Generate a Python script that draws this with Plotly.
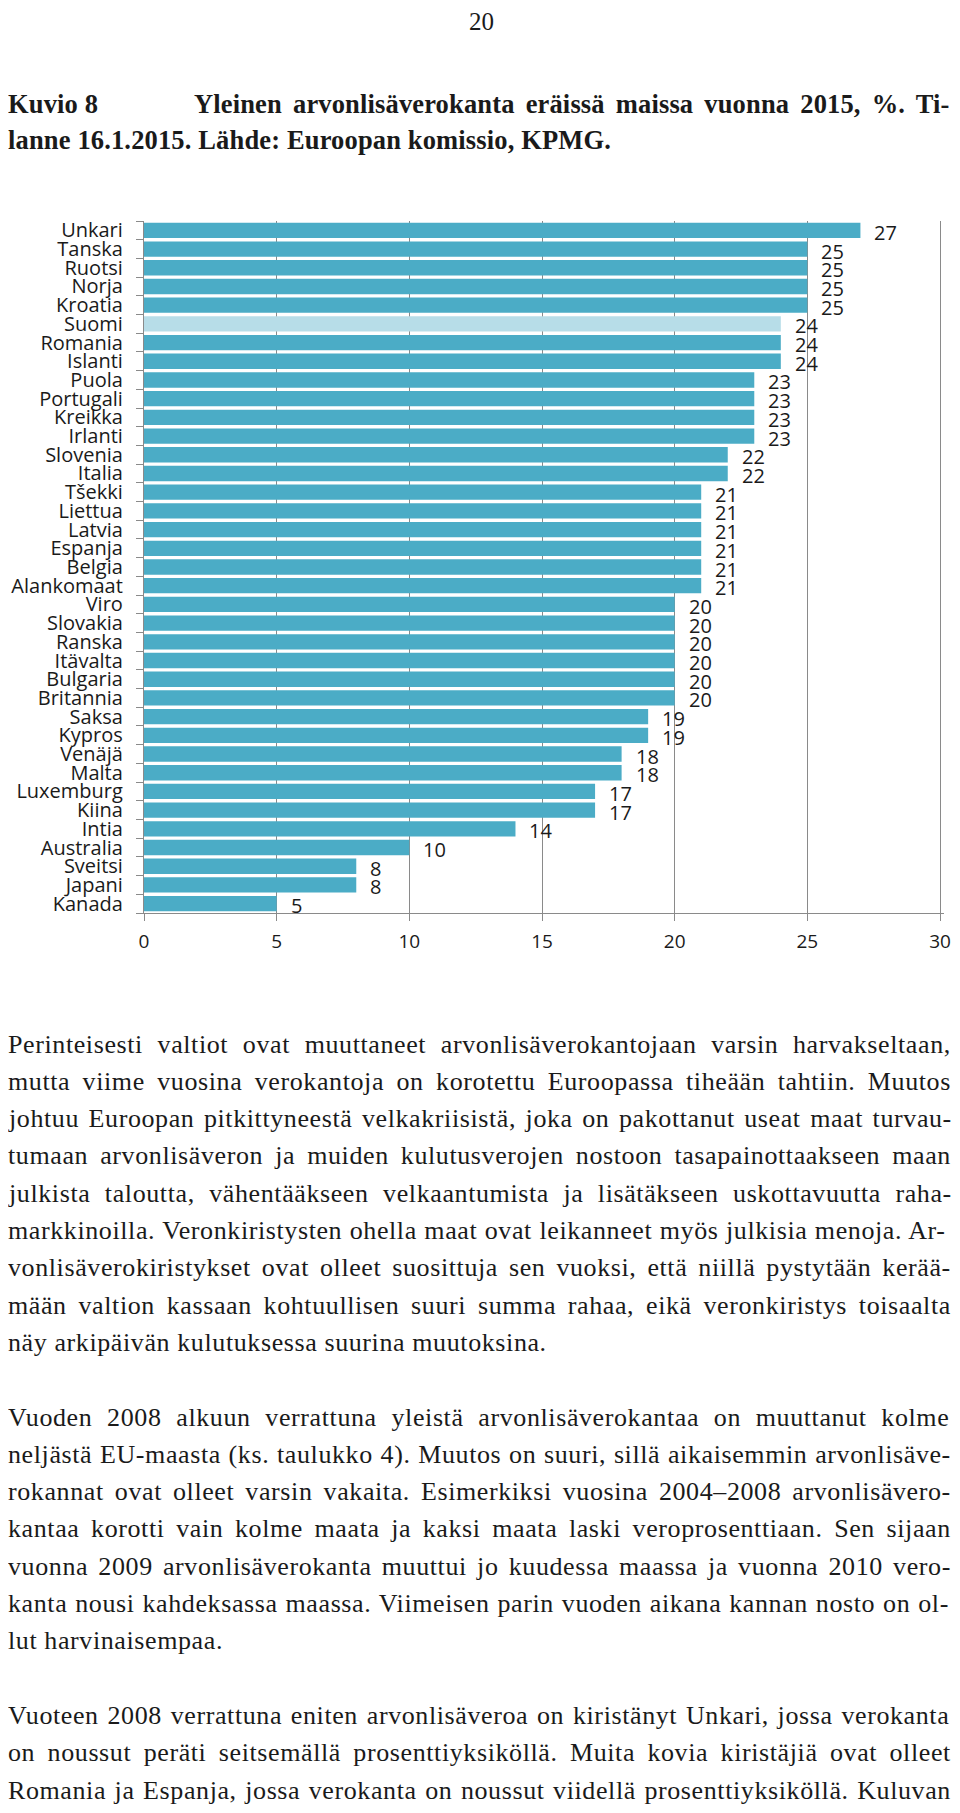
import plotly.graph_objects as go

# ---------------- data ----------------
countries = ["Unkari", "Tanska", "Ruotsi", "Norja", "Kroatia", "Suomi", "Romania",
             "Islanti", "Puola", "Portugali", "Kreikka", "Irlanti", "Slovenia", "Italia",
             "Tšekki", "Liettua", "Latvia", "Espanja", "Belgia", "Alankomaat", "Viro",
             "Slovakia", "Ranska", "Itävalta", "Bulgaria", "Britannia", "Saksa", "Kypros",
             "Venäjä", "Malta", "Luxemburg", "Kiina", "Intia", "Australia", "Sveitsi",
             "Japani", "Kanada"]
vat_rates = [27, 25, 25, 25, 25, 24, 24, 24, 23, 23, 23, 23, 22, 22, 21, 21, 21, 21, 21, 21,
             20, 20, 20, 20, 20, 20, 19, 19, 18, 18, 17, 17, 14, 10, 8, 8, 5]
highlight = "Suomi"
x_ticks = [0, 5, 10, 15, 20, 25, 30]

page_number = "20"
title_label = "Kuvio 8"
title_line1 = "Yleinen arvonlisäverokanta eräissä maissa vuonna 2015, %. Ti-"
title_line2 = "lanne 16.1.2015. Lähde: Euroopan komissio, KPMG."

paragraph1 = [
    "Perinteisesti valtiot ovat muuttaneet arvonlisäverokantojaan varsin harvakseltaan,",
    "mutta viime vuosina verokantoja on korotettu Euroopassa tiheään tahtiin. Muutos",
    "johtuu Euroopan pitkittyneestä velkakriisistä, joka on pakottanut useat maat turvau-",
    "tumaan arvonlisäveron ja muiden kulutusverojen nostoon tasapainottaakseen maan",
    "julkista taloutta, vähentääkseen velkaantumista ja lisätäkseen uskottavuutta raha-",
    "markkinoilla. Veronkiristysten ohella maat ovat leikanneet myös julkisia menoja. Ar-",
    "vonlisäverokiristykset ovat olleet suosittuja sen vuoksi, että niillä pystytään kerää-",
    "mään valtion kassaan kohtuullisen suuri summa rahaa, eikä veronkiristys toisaalta",
    "näy arkipäivän kulutuksessa suurina muutoksina.",
]
paragraph2 = [
    "Vuoden 2008 alkuun verrattuna yleistä arvonlisäverokantaa on muuttanut kolme",
    "neljästä EU-maasta (ks. taulukko 4). Muutos on suuri, sillä aikaisemmin arvonlisäve-",
    "rokannat ovat olleet varsin vakaita. Esimerkiksi vuosina 2004–2008 arvonlisävero-",
    "kantaa korotti vain kolme maata ja kaksi maata laski veroprosenttiaan. Sen sijaan",
    "vuonna 2009 arvonlisäverokanta muuttui jo kuudessa maassa ja vuonna 2010 vero-",
    "kanta nousi kahdeksassa maassa. Viimeisen parin vuoden aikana kannan nosto on ol-",
    "lut harvinaisempaa.",
]
paragraph3 = [
    "Vuoteen 2008 verrattuna eniten arvonlisäveroa on kiristänyt Unkari, jossa verokanta",
    "on noussut peräti seitsemällä prosenttiyksiköllä. Muita kovia kiristäjiä ovat olleet",
    "Romania ja Espanja, jossa verokanta on noussut viidellä prosenttiyksiköllä. Kuluvan",
]

# ---------------- style / layout ----------------
BAR = "#4BACC6"
BAR_HL = "#B7DDE8"
GRID = "#8A8A8A"
INK = "#1a1a1a"
SANS = "Open Sans"
SERIF = "Liberation Serif"

OFF = 8                      # default body margin of the html page
W, H = 960 - 2 * OFF, 1813 - 2 * OFF
PL, PR, PT, PB = 144, 944, 221, 913   # plot area in page pixels
X_RANGE = [0, 30.15]
TEXT_RIGHT = 951


def px(X):
    return (X - PL) / (PR - PL)


def py(Y):
    return (PB - Y) / (PB - PT)


# Times-compatible advance widths (1/1000 em) used to justify the text lines
REG = {" ": 250, ",": 250, ".": 250, "-": 333, "–": 500, "(": 333, ")": 333, ":": 278, "%": 833,
       "A": 722, "E": 611, "G": 722, "K": 722, "L": 611, "M": 889, "P": 556, "R": 667, "S": 556,
       "T": 611, "U": 722, "V": 722, "Y": 722,
       "a": 444, "b": 500, "c": 444, "d": 500, "e": 444, "f": 333, "g": 500, "h": 500, "i": 278,
       "j": 278, "k": 500, "l": 278, "m": 778, "n": 500, "o": 500, "p": 500, "q": 500, "r": 333,
       "s": 389, "t": 278, "u": 500, "v": 500, "w": 722, "x": 500, "y": 500, "z": 444, "ä": 444,
       "ö": 500, "å": 444}
BOLD = {" ": 250, ",": 250, ".": 250, "-": 333, ":": 333, "%": 1000,
        "E": 667, "G": 778, "K": 778, "L": 667, "M": 944, "P": 611, "T": 667, "Y": 722,
        "a": 500, "b": 556, "c": 444, "d": 556, "e": 444, "f": 333, "g": 500, "h": 556, "i": 278,
        "j": 333, "k": 556, "l": 278, "m": 833, "n": 556, "o": 500, "p": 556, "r": 444, "s": 389,
        "t": 333, "u": 556, "v": 500, "y": 500, "ä": 500, "ö": 500}


def text_ann(text, x_left, y_mid, size, bold=False, ls=0.0, right=None):
    tbl = BOLD if bold else REG
    nat = sum(tbl.get(c, 500) for c in text) / 1000 * size + len(text) * ls
    ws = 0.0
    if right is not None and text.count(" "):
        ws = (right - x_left - nat) / text.count(" ")
    style = f"letter-spacing:{ls}px;word-spacing:{ws:.2f}px"
    return dict(text=f'<span style="{style}">{text}</span>', x=px(x_left), y=py(y_mid),
                xref="paper", yref="paper", xanchor="left", yanchor="middle",
                showarrow=False, borderpad=0, borderwidth=0,
                font=dict(family=SERIF, size=size, color=INK,
                          weight="bold" if bold else "normal"))


colors = [BAR_HL if c == highlight else BAR for c in countries]

fig = go.Figure(go.Bar(
    x=vat_rates, y=countries, orientation="h",
    marker=dict(color=colors, line=dict(width=0)),
    hoverinfo="skip",
))

annotations = []
# value labels
for c, v in zip(countries, vat_rates):
    annotations.append(dict(x=v, y=c, xref="x", yref="y", text=str(v), showarrow=False,
                            xanchor="left", yanchor="middle", xshift=14, yshift=-2,
                            borderpad=0, borderwidth=0,
                            font=dict(family=SANS, size=20, color=INK)))

# page number (top of the page)
annotations.append(dict(text=page_number, x=px(481), y=py(OFF), xref="paper", yref="paper",
                        xanchor="center", yanchor="top", showarrow=False,
                        borderpad=0, borderwidth=0,
                        font=dict(family=SERIF, size=25, color=INK)))

# title
annotations.append(text_ann(title_label, OFF, 104, 26.5, bold=True, ls=0.15))
annotations.append(text_ann(title_line1, 194, 104, 26.5, bold=True, ls=0.15, right=TEXT_RIGHT))
annotations.append(text_ann(title_line2, OFF, 140, 26.5, bold=True, ls=0.15))

# body text
BODY_TOP, PITCH = 1044, 37.3
k = 0
for para in (paragraph1, paragraph2, paragraph3):
    for i, line in enumerate(para):
        last = (i == len(para) - 1) and para is not paragraph3
        annotations.append(text_ann(line, OFF, BODY_TOP + PITCH * k, 26, ls=0.6,
                                    right=None if last else TEXT_RIGHT))
        k += 1
    k += 1

n = len(countries)
fig.update_layout(
    width=W, height=H, autosize=False,
    margin=dict(l=PL - OFF, r=W - (PR - OFF), t=PT - OFF, b=H - (PB - OFF), pad=0,
                autoexpand=False),
    paper_bgcolor="white", plot_bgcolor="white",
    showlegend=False, bargap=0.18,
    annotations=annotations,
    xaxis=dict(range=X_RANGE, tickmode="array", tickvals=x_ticks, automargin=False,
               showgrid=True, gridcolor=GRID, gridwidth=1.3,
               zeroline=False, showline=True, linecolor=GRID, linewidth=1.3,
               ticks="outside", ticklen=7, tickcolor=GRID, tickwidth=1.3,
               ticklabelstandoff=4, ticklabeloverflow="allow",
               tickfont=dict(family=SANS, size=19, color=INK), fixedrange=True),
    yaxis=dict(type="category", categoryorder="array", categoryarray=countries,
               range=[n - 0.5, -0.5], autorange=False, automargin=False,
               tickmode="array", tickvals=countries, ticktext=countries,
               tickson="boundaries", ticks="outside", ticklen=7,
               tickcolor=GRID, tickwidth=1.3, showline=True, linecolor=GRID, linewidth=1.3,
               showgrid=False, ticklabelstandoff=16, ticklabeloverflow="allow",
               tickfont=dict(family=SANS, size=20, color=INK), fixedrange=True),
)

fig.write_html("out.html", config={"displayModeBar": False})
